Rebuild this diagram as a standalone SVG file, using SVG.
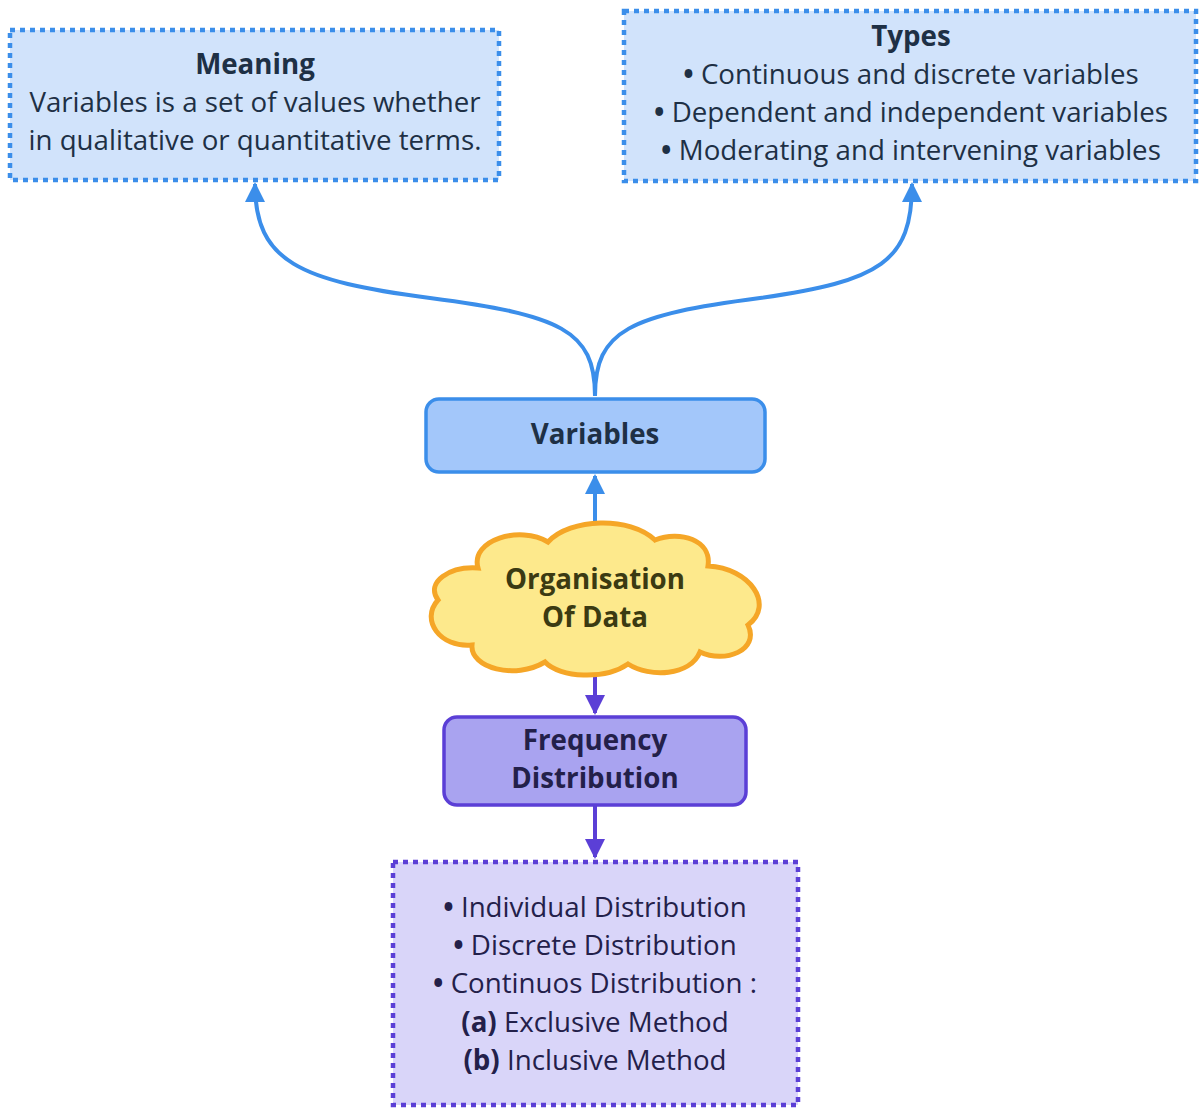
<svg xmlns="http://www.w3.org/2000/svg" width="1200" height="1108" viewBox="0 0 1200 1108">
<defs>
<style>
.t{font-family:"Open Sans","Liberation Sans",sans-serif;font-size:27.7px;text-anchor:middle;}
.b{font-weight:bold;}
.blue{fill:#1e3045;}
.pur{fill:#23204a;}
.conB{fill:none;stroke:#3b8eea;stroke-width:4;}
.conP{fill:none;stroke:#5b3fd6;stroke-width:4;}
</style>
<marker id="ab" viewBox="0 0 10 10" refX="9" refY="5" markerWidth="5" markerHeight="5" markerUnits="strokeWidth" orient="auto"><path d="M0,0 L10,5 L0,10 Z" fill="#3b8eea"/></marker>
<marker id="ap" viewBox="0 0 10 10" refX="9" refY="5" markerWidth="5" markerHeight="5" markerUnits="strokeWidth" orient="auto"><path d="M0,0 L10,5 L0,10 Z" fill="#5b3fd6"/></marker>
</defs>
<rect width="1200" height="1108" fill="#ffffff"/>
<g id="connectors">
<path class="conB" marker-end="url(#ab)" d="M595,396 C595,330 560,315 430,298 C300,281 255,262 255,184"/>
<path class="conB" marker-end="url(#ab)" d="M595,396 C595,330 630,315 760,298 C880,281 912,262 912,184"/>
<path class="conB" marker-end="url(#ab)" d="M595,524 L595,476"/>
<path class="conP" marker-end="url(#ap)" d="M595,674 L595,713"/>
<path class="conP" marker-end="url(#ap)" d="M595,806 L595,857"/>
</g>
<g id="meaning">
<rect x="10" y="30" width="489" height="150" fill="#d1e3fb" stroke="#3b8eea" stroke-width="4.5" stroke-dasharray="5 5"/>
<text class="t b blue" x="255" y="74">Meaning</text>
<text class="t blue" x="255" y="112">Variables is a set of values whether</text>
<text class="t blue" x="255" y="150">in qualitative or quantitative terms.</text>
</g>
<g id="types">
<rect x="624" y="11" width="572" height="170" fill="#d1e3fb" stroke="#3b8eea" stroke-width="4.5" stroke-dasharray="5 5"/>
<text class="t b blue" x="911" y="46">Types</text>
<text class="t blue" x="911" y="84"><tspan class="b">•</tspan> Continuous and discrete variables</text>
<text class="t blue" x="911" y="122"><tspan class="b">•</tspan> Dependent and independent variables</text>
<text class="t blue" x="911" y="160"><tspan class="b">•</tspan> Moderating and intervening variables</text>
</g>
<g id="variables">
<rect x="426" y="399" width="339" height="73" rx="13" fill="#a3c7fa" stroke="#3b8eea" stroke-width="3.5"/>
<text class="t b blue" x="595" y="444">Variables</text>
</g>
<g id="organisation">
<path d="M478,568 C470,540 520,525 548,542 C570,518 630,516 655,540 C680,530 712,540 708,566 C750,568 775,605 748,625 C760,650 725,664 700,652 C690,676 650,678 628,664 C605,680 560,678 545,662 C515,680 470,668 472,645 C440,648 420,620 438,600 C425,582 450,566 478,568 Z" fill="#fde98c" stroke="#f5a627" stroke-width="5"/>
<text class="t b" fill="#3b3a12" x="595" y="589">Organisation</text>
<text class="t b" fill="#3b3a12" x="595" y="627">Of Data</text>
</g>
<g id="frequency">
<rect x="444" y="717" width="302" height="88" rx="13" fill="#a9a3f0" stroke="#5b3fd6" stroke-width="3.5"/>
<text class="t b pur" x="595" y="750">Frequency</text>
<text class="t b pur" x="595" y="788">Distribution</text>
</g>
<g id="distributions">
<rect x="393" y="862" width="405" height="243" fill="#d9d5f9" stroke="#5b3fd6" stroke-width="4.5" stroke-dasharray="5 5"/>
<text class="t pur" x="595" y="917"><tspan class="b">•</tspan> Individual Distribution</text>
<text class="t pur" x="595" y="955"><tspan class="b">•</tspan> Discrete Distribution</text>
<text class="t pur" x="595" y="993"><tspan class="b">•</tspan> Continuos Distribution :</text>
<text class="t pur" x="595" y="1032"><tspan class="b">(a)</tspan> Exclusive Method</text>
<text class="t pur" x="595" y="1070"><tspan class="b">(b)</tspan> Inclusive Method</text>
</g>
</svg>
